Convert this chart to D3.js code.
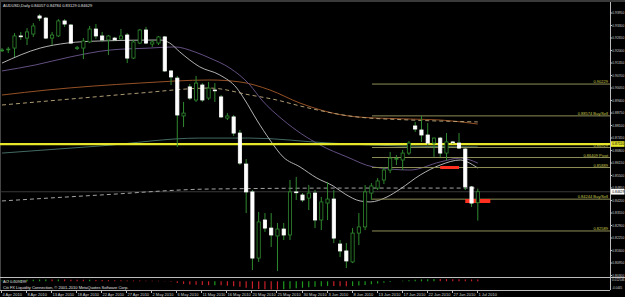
<!DOCTYPE html>
<html>
<head>
<meta charset="utf-8">
<script src="https://cdn.jsdelivr.net/npm/d3@7"></script>
<style>
html, body { margin: 0; padding: 0; background: #000; }
svg { display: block; }
text { font-family: "Liberation Sans", Arial, sans-serif; }
</style>
</head>
<body>
<svg id="chart" width="625" height="297"></svg>
<script>
//Daily candles, 4 Apr 2010 .. 1 Jul 2010 (one bar per day incl. Sunday)
var opens  = [0.9200,0.9205,0.9210,0.9273,0.9262,0.9283,0.9377,0.9366,0.9262,0.9273,0.9351,0.9330,0.9210,0.9210,0.9242,0.9309,0.9273,0.9252,0.9262,0.9257,
              0.9278,0.9158,0.9236,0.9304,0.9231,0.9236,0.9268,0.9091,0.9054,0.8857,0.9008,0.8940,0.9018,0.8950,0.8992,0.8956,0.8846,0.8852,0.8768,0.8607,
              0.8462,0.8118,0.8316,0.8274,0.8233,0.8269,0.8238,0.8462,0.8446,0.8430,0.8456,0.8316,0.8404,0.8425,0.8191,0.8155,0.8098,0.8248,0.8280,0.8456,
              0.8482,0.8524,0.8576,0.8633,0.8628,0.8664,0.8805,0.8784,0.8758,0.8716,0.8742,0.8664,0.8722,0.8716,0.8685,0.8488,0.84057];
var highs  = [0.9210,0.9216,0.9288,0.9294,0.9314,0.9340,0.9387,0.9372,0.9294,0.9361,0.9361,0.9335,0.9221,0.9262,0.9325,0.9335,0.9294,0.9278,0.9268,0.9309,
              0.9288,0.9252,0.9309,0.9320,0.9252,0.9273,0.9273,0.9096,0.9065,0.8930,0.9023,0.9065,0.9028,0.9034,0.9028,0.8966,0.8872,0.8862,0.8784,0.8633,
              0.8472,0.8358,0.8352,0.8352,0.8300,0.8300,0.8524,0.8540,0.8456,0.8498,0.8472,0.8436,0.8514,0.8472,0.8212,0.8196,0.8274,0.8352,0.8498,0.8508,
              0.8534,0.8592,0.8670,0.8654,0.8680,0.8727,0.8826,0.8857,0.8820,0.8745,0.8748,0.8768,0.8727,0.8768,0.8690,0.8493,0.84784];
var lows   = [0.9190,0.9184,0.9164,0.9252,0.9226,0.9268,0.9351,0.9257,0.9226,0.9268,0.9320,0.9231,0.9200,0.9153,0.9236,0.9257,0.9242,0.9174,0.9247,0.9255,
              0.9132,0.9153,0.9231,0.9231,0.9216,0.9226,0.9086,0.9018,0.8696,0.8800,0.8940,0.8930,0.8930,0.8940,0.8930,0.8846,0.8836,0.8753,0.8602,0.8352,
              0.8056,0.8098,0.8254,0.8176,0.8051,0.8212,0.8212,0.8420,0.8410,0.8368,0.8274,0.8264,0.8316,0.8196,0.8124,0.8066,0.8092,0.8186,0.8264,0.8420,
              0.8472,0.8503,0.8560,0.8602,0.8576,0.8654,0.8774,0.8722,0.8706,0.8644,0.8644,0.8628,0.8711,0.8685,0.8472,0.8384,0.83129];
var closes = [0.9200,0.9205,0.9273,0.9271,0.9294,0.9325,0.9366,0.9262,0.9278,0.9351,0.9335,0.9236,0.9212,0.9247,0.9309,0.9273,0.9252,0.9273,0.9252,0.9273,
              0.9158,0.9242,0.9304,0.9236,0.9242,0.9268,0.9091,0.9060,0.8862,0.8872,0.8950,0.9028,0.8940,0.9002,0.8990,0.8852,0.8857,0.8768,0.8612,0.8462,
              0.8118,0.8306,0.8274,0.8238,0.8269,0.8238,0.8462,0.8460,0.8420,0.8456,0.8316,0.8410,0.8425,0.8222,0.8155,0.8103,0.8248,0.8280,0.8462,0.8493,
              0.8519,0.8576,0.8638,0.8636,0.8664,0.8716,0.8789,0.8758,0.8716,0.8742,0.8664,0.8722,0.8720,0.8690,0.8488,0.8404,0.84629];

//Awesome Oscillator values for the sub window
var aoValues = [0.0050,0.0055,0.0062,0.0070,0.0078,0.0086,0.0095,0.0098,0.0096,0.0099,0.0097,0.0090,0.0082,0.0078,0.0080,0.0076,0.0070,0.0065,0.0060,0.0058,
                0.0050,0.0042,0.0040,0.0033,0.0030,0.0028,0.0012,-0.0030,-0.0090,-0.0140,-0.0170,-0.0190,-0.0205,-0.0210,-0.0208,-0.0220,-0.0240,-0.0265,-0.0300,-0.0350,
                -0.0400,-0.0420,-0.0435,-0.0440,-0.0445,-0.0430,-0.0405,-0.0380,-0.0350,-0.0320,-0.0295,-0.0270,-0.0250,-0.0255,-0.0262,-0.0268,-0.0255,-0.0230,-0.0195,-0.0160,
                -0.0120,-0.0080,-0.0040,0.0000,0.0030,0.0060,0.0085,0.0105,0.0118,0.0125,0.0122,0.0118,0.0113,0.0108,0.0103,0.0099,0.009499];

//Moving averages, as [bar, price] knots
var maWhite  = [[0,0.9132],[6.1,0.9210],[10.4,0.9236],[15.7,0.9247],[25.2,0.9252],[26.8,0.9236],[28.4,0.9190],[31.6,0.9112],[34.8,0.9070],[37.5,0.9002],
                [38.8,0.8940],[40.7,0.8836],[42.8,0.8732],[44.9,0.8644],[47.6,0.8592],[50.3,0.8534],[52.9,0.8493],[54.8,0.8451],[57.2,0.8415],[58.8,0.8410],
                [61.5,0.8436],[63.6,0.8477],[66.8,0.8550],[70,0.8602],[73.2,0.8628],[74.3,0.8618],[76,0.8586]];
var maPurple = [[0,0.9091],[5.3,0.9122],[10.9,0.9164],[17.3,0.9200],[23.6,0.9210],[27.6,0.9216],[30.8,0.9190],[33.2,0.9158],[36.4,0.9106],[39.6,0.9018],
                [41.5,0.8940],[44.9,0.8836],[50.8,0.8706],[55.1,0.8644],[59.3,0.8592],[65.2,0.8576],[70,0.8618],[73.2,0.8638],[76,0.8612]];
var maOrange = [[0,0.8966],[7.2,0.8992],[22,0.9028],[33.2,0.9044],[38,0.9034],[42.8,0.8992],[47.6,0.8924],[56.7,0.8852],[65.2,0.8841],[70,0.8836],[76,0.8815]];
var maTan    = [[0,0.8914],[10.9,0.8945],[22,0.8976],[33.2,0.9002],[39.6,0.8966],[43.9,0.8940],[47.6,0.8909],[56.7,0.8852],[65.2,0.8836],[76,0.8826]];
var maTeal   = [[0,0.8664],[15.7,0.8701],[31.6,0.8742],[39.6,0.8742],[52.4,0.8716],[63.6,0.8701],[76,0.8696]];
var maGrey   = [[0,0.8415],[15.7,0.8446],[33.2,0.8477],[55.6,0.8482],[76,0.8482]];

//Pivot levels drawn from 13 Jun
var pivotPrices = [0.90229,0.88574,0.86929,0.86409,0.85889,0.84244,0.82589];
var pivotNames  = ["","Buy/Sell","","Pivot","","Buy/Sell",""];
var pivotStart  = 59.1;
var yellowLevel = 0.87110;

//Red boxes [bar from, bar to, price top, price bottom]
var redBoxes = [[70,73,0.85968,0.85812],[74,78,0.84252,0.84044]];

//Axis labels
var priceTicks = [0.93950,0.93300,0.92650,0.92000,0.91350,0.90700,0.90050,0.89400,0.88750,0.88100,0.87450,
                  0.86800,0.86150,0.85500,0.84850,0.84200,0.83550,0.82900,0.82250,0.81600,0.80950,0.80300];
var aoTicks = ["0.012546", "-0.0445"];
var dateLabels = ["4 Apr 2010","8 Apr 2010","13 Apr 2010","18 Apr 2010","22 Apr 2010","27 Apr 2010","2 May 2010","6 May 2010",
                  "11 May 2010","16 May 2010","20 May 2010","25 May 2010","30 May 2010","3 Jun 2010","8 Jun 2010","13 Jun 2010",
                  "17 Jun 2010","22 Jun 2010","27 Jun 2010","1 Jul 2010"];
var dateBars   = [0,4,8,12,16,20,24,28,32,36,40,44,48,52,56,60,64,68,72,76];

var titleText = "AUDUSD,Daily  0.84057 0.84784 0.83129 0.84629";
var aoText = "AO 0.009499";
var copyText = "Citi FX Liquidity Connection, \u00a9 2001-2010 MetaQuotes Software Corp.";

var svgWidth = 625, svgHeight = 297;
var plotRight = 610;
var axisFont = "3.3px";
var svg = d3.select("#chart");

var x = d3.scaleLinear().domain([0, 76]).range([2, 477.8]);
var y = d3.scaleLinear().domain([0.8056, 0.9395]).range([270, 12.5]);
var yAo = d3.scaleLinear().domain([-0.0445, 0.0125]).range([289.5, 279]);
var candleWidth = 3.2;

//frame
svg.append("rect").attr("width", svgWidth).attr("height", svgHeight).attr("fill", "#000");
svg.append("rect").attr("width", svgWidth).attr("height", 2).attr("fill", "#3a3a3a");
svg.append("line").attr("x1", 0.5).attr("x2", 0.5).attr("y1", 2).attr("y2", 290).attr("stroke", "#444");

//bid line
svg.append("line").attr("x1", 0).attr("x2", plotRight).attr("y1", y(closes[closes.length - 1])).attr("y2", y(closes[closes.length - 1]))
   .attr("stroke", "#3a3a3a").attr("stroke-width", 1);

//moving averages
var lineGen = d3.line().x(function(d) {return x(d[0]);}).y(function(d) {return y(d[1]);}).curve(d3.curveMonotoneX);
function drawMa(data, color, dash, width){
    svg.append("path").attr("d", lineGen(data)).attr("fill", "none")
       .attr("stroke", color).attr("stroke-width", width).attr("stroke-dasharray", dash);
}
drawMa(maTeal, "#4a766d", null, 0.9);
drawMa(maGrey, "#b5b5b5", "4,3", 0.9);
drawMa(maOrange, "#a65a2a", null, 0.9);
drawMa(maTan, "#c2ad80", "4,3", 0.9);
drawMa(maPurple, "#6e5890", null, 0.9);
drawMa(maWhite, "#c4c4c4", null, 0.9);

//pivot levels
var pivots = svg.selectAll("g.pivot").data(pivotPrices).enter().append("g").attr("class", "pivot");
pivots.append("line")
    .attr("x1", x(pivotStart)).attr("x2", plotRight)
    .attr("y1", function(d) {return y(d);}).attr("y2", function(d) {return y(d);})
    .attr("stroke", "#8e8e58").attr("stroke-width", 1);
pivots.append("text")
    .attr("x", plotRight - 2).attr("y", function(d) {return y(d) - 1;})
    .attr("text-anchor", "end").attr("font-size", "4px").attr("fill", "#c8c84a")
    .text(function(d, i) {return d.toFixed(5) + (pivotNames[i] ? " " + pivotNames[i] : "");});

//yellow horizontal line
svg.append("line").attr("x1", 0).attr("x2", plotRight).attr("y1", y(yellowLevel)).attr("y2", y(yellowLevel))
   .attr("stroke", "#e6e62a").attr("stroke-width", 2.2);

//red boxes
svg.selectAll("rect.box").data(redBoxes).enter().append("rect").attr("class", "box")
    .attr("x", function(d) {return x(d[0]);})
    .attr("width", function(d) {return x(d[1]) - x(d[0]);})
    .attr("y", function(d) {return y(d[2]);})
    .attr("height", function(d) {return y(d[3]) - y(d[2]);})
    .attr("fill", "#ff3020");

//candles
var bars = svg.selectAll("g.bar").data(opens).enter().append("g").attr("class", "bar")
    .attr("transform", function(d, i) {return "translate(" + x(i) + ",0)";});
bars.append("line")
    .attr("y1", function(d, i) {return y(highs[i]);})
    .attr("y2", function(d, i) {return y(lows[i]);})
    .attr("stroke", "#2f8a2f").attr("stroke-width", 1);
bars.append("rect")
    .attr("x", -candleWidth / 2)
    .attr("width", candleWidth)
    .attr("y", function(d, i) {return y(Math.max(opens[i], closes[i]));})
    .attr("height", function(d, i) {return Math.max(0.8, Math.abs(y(opens[i]) - y(closes[i])));})
    .attr("fill", function(d, i) {return closes[i] < opens[i] ? "#ffffff" : "#000000";})
    .attr("stroke", function(d, i) {return closes[i] < opens[i] ? "#ffffff" : "#2f8a2f";})
    .attr("stroke-width", 0.8);

//title
svg.append("text").attr("x", 3).attr("y", 7).attr("font-size", "4px").attr("fill", "#e0e0e0").text(titleText);

//price axis
svg.append("line").attr("x1", plotRight + 0.5).attr("x2", plotRight + 0.5).attr("y1", 2).attr("y2", 290).attr("stroke", "#bdbdbd");
var yAxis = d3.axisRight(y).tickValues(priceTicks).tickSize(1.5).tickFormat(d3.format(".5f"));
var yG = svg.append("g").attr("transform", "translate(" + (plotRight + 0.5) + ",0)").call(yAxis);
yG.select(".domain").remove();
yG.selectAll("line").attr("stroke", "#bdbdbd");
yG.selectAll("text").attr("x", 1.8).attr("font-size", axisFont).attr("fill", "#d0d0d0")
    .attr("font-family", "Liberation Sans, Arial, sans-serif");

//axis price boxes
function priceBox(price, fill, color){
    svg.append("rect").attr("x", plotRight + 1).attr("y", y(price) - 2.8).attr("width", 13.5).attr("height", 5.6).attr("fill", fill);
    svg.append("text").attr("x", plotRight + 2.3).attr("y", y(price) + 1.2).attr("font-size", axisFont).attr("fill", color)
       .text(price.toFixed(5));
}
priceBox(yellowLevel, "#e6e62a", "#000");
priceBox(closes[closes.length - 1], "#ffffff", "#000");

//sub window with Awesome Oscillator
svg.append("line").attr("x1", 0).attr("x2", svgWidth).attr("y1", 277.5).attr("y2", 277.5).attr("stroke", "#bdbdbd");
svg.selectAll("line.ao").data(aoValues).enter().append("line").attr("class", "ao")
    .attr("x1", function(d, i) {return x(i);}).attr("x2", function(d, i) {return x(i);})
    .attr("y1", yAo(0))
    .attr("y2", function(d) {return yAo(d);})
    .attr("stroke", function(d, i) {return (i > 0 && d < aoValues[i - 1]) ? "#c8202a" : "#1f9a1f";})
    .attr("stroke-width", 1.2);
svg.append("text").attr("x", 3).attr("y", 282.5).attr("font-size", "4px").attr("fill", "#e0e0e0").text(aoText);
svg.append("text").attr("x", 3).attr("y", 288.5).attr("font-size", "4px").attr("fill", "#e0e0e0").text(copyText);
svg.selectAll("text.aotick").data(aoTicks).enter().append("text").attr("class", "aotick")
    .attr("x", plotRight + 2).attr("y", function(d, i) {return i === 0 ? 281 : 289;})
    .attr("font-size", "3px").attr("fill", "#d0d0d0")
    .text(function(d) {return d;});

//date axis
svg.append("line").attr("x1", 0).attr("x2", plotRight).attr("y1", 290.5).attr("y2", 290.5).attr("stroke", "#bdbdbd");
var dates = svg.selectAll("g.date").data(dateLabels).enter().append("g").attr("class", "date")
    .attr("transform", function(d, i) {return "translate(" + Math.round(x(dateBars[i]) - 1) + ",0)";});
dates.append("line").attr("x1", 0.5).attr("x2", 0.5).attr("y1", 290).attr("y2", 293).attr("stroke", "#bdbdbd");
dates.append("text").attr("x", 1.5).attr("y", 296).attr("font-size", "4px").attr("fill", "#d0d0d0").text(function(d) {return d;});
</script>
</body>
</html>
